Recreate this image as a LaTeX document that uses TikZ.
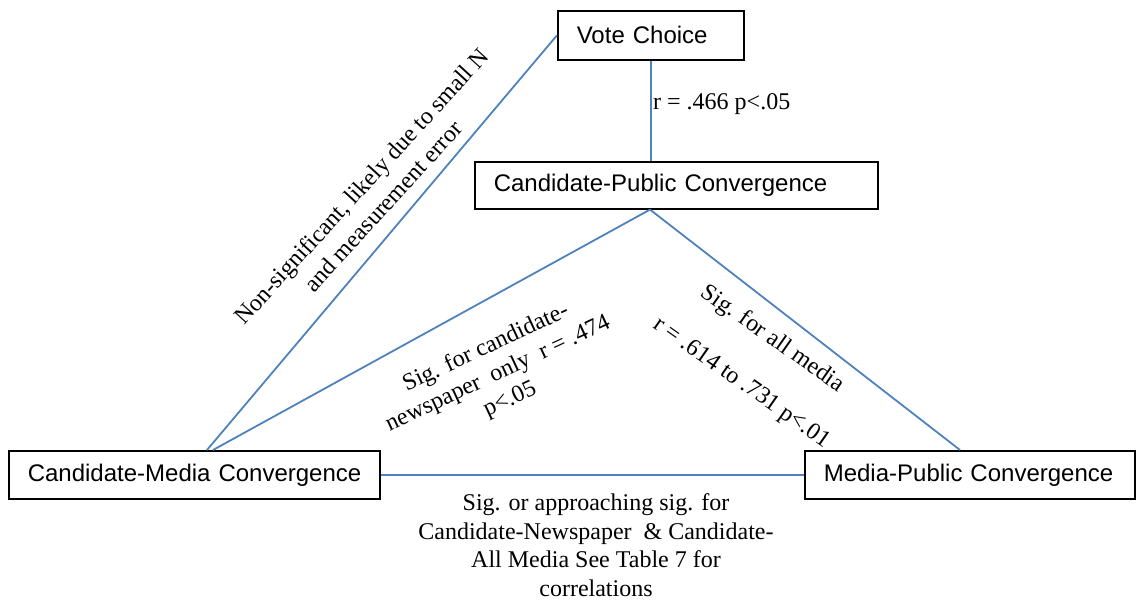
\documentclass[tikz,border=0pt]{standalone}
\usepackage{fontspec}
\setmainfont{Liberation Serif}
\newfontfamily\boxfont{Liberation Sans}
\usetikzlibrary{calc}
\definecolor{linkblue}{RGB}{79,129,189}
\hyphenpenalty=10000
\begin{document}
\begin{tikzpicture}[x=1pt,y=-1pt,
  box/.style={draw=black, line width=1.6pt, anchor=north west, inner xsep=19pt, inner ysep=0pt,
    font=\boxfont\fontsize{24}{28}\selectfont, align=left},
  link/.style={draw=linkblue, line width=1.8pt},
  lab/.style={font=\fontsize{24}{28.5}\selectfont, align=center, inner sep=0pt}]
\useasboundingbox (0,0) rectangle (1136,601);
% boxes
\node[box, minimum width=186pt, minimum height=49pt, text width=148pt] (vc) at (557,10) {Vote Choice};
\node[box, minimum width=403pt, minimum height=47pt, text width=365pt] (cp) at (474,161) {Candidate-Public Convergence};
\node[box, minimum width=371pt, minimum height=48pt, text width=333pt] (cm) at (8,450) {\mbox{Candidate-Media Convergence}};
\node[box, minimum width=330pt, minimum height=48pt, text width=292pt] (mp) at (804,450) {Media-Public Convergence};
% anchor points on the boxes
\coordinate (cpb) at ($(cp.south west)+(176,0)$);
\coordinate (cmt1) at ($(cm.north west)+(199,0)$);
\coordinate (cmt2) at ($(cm.north west)+(205,0)$);
\coordinate (mpt) at ($(mp.north west)+(156,0)$);
% connectors
\draw[link] (vc.south) -- (vc.south |- cp.north);
\draw[link] (vc.west) -- (cmt1);
\draw[link] (cpb) -- (cmt2);
\draw[link] (cpb) -- (mpt);
\draw[link] (cm.east) -- (mp.west);
% labels
\node[lab, anchor=west] (l1) at (653,104) {r = .466 p<.05};
\node[lab, rotate=47.5] (l2) at (372,196) {Non-significant, likely due to small N\\[1pt]and measurement\ error};
\node[lab, rotate=25] (l3) at (498,374) {Sig. for candidate-\\newspaper\ \ only\ \ r = .474\\p<.05};
\node[lab, rotate=-35] (l4) at (757,361) {Sig. for all media\\[25pt]r = .614 to .731 p<.01};
\node[lab] (l5) at (596,545) {Sig. or approaching sig. for\\Candidate-Newspaper\ \ \& Candidate-\\All Media See Table 7 for\\correlations};
\end{tikzpicture}
\end{document}
